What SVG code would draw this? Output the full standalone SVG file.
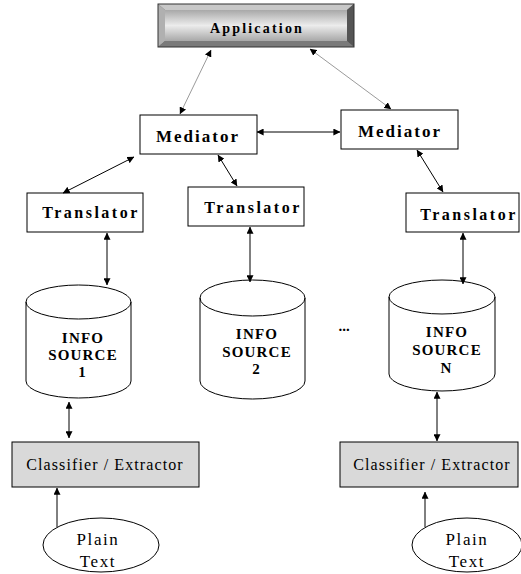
<svg xmlns="http://www.w3.org/2000/svg" width="521" height="574" viewBox="0 0 521 574">
<defs>
  <marker id="ah" viewBox="0 0 10 10" refX="9.5" refY="5" markerWidth="7" markerHeight="7" markerUnits="userSpaceOnUse" orient="auto-start-reverse">
    <path d="M0,0 L10,5 L0,10 z" fill="#000"/>
  </marker>
  <linearGradient id="face" x1="0" y1="0" x2="0" y2="1">
    <stop offset="0" stop-color="#a8a8a8"/>
    <stop offset="0.5" stop-color="#ececec"/>
    <stop offset="1" stop-color="#a8a8a8"/>
  </linearGradient>
</defs>
<style>
  .box{fill:#fff;stroke:#000;stroke-width:1}
  .gray{fill:#d9d9d9;stroke:#000;stroke-width:1}
  .b{font-family:"Liberation Serif","Times New Roman",serif;font-weight:bold;fill:#000;text-anchor:middle}
  .r{font-family:"Liberation Serif","Times New Roman",serif;fill:#000;text-anchor:middle}
  .c{stroke:#000;stroke-width:1;fill:none;marker-start:url(#ah);marker-end:url(#ah)}
  .c1{stroke:#000;stroke-width:1;fill:none;marker-end:url(#ah)}
  .cg{stroke:#808080;stroke-width:0.8;fill:none;marker-start:url(#ah);marker-end:url(#ah)}
</style>
<rect width="521" height="574" fill="#fff"/>

<g id="application">
  <rect x="158" y="4" width="196" height="43" fill="#6a6a6a"/>
  <polygon points="158,4 354,4 347,10 165,10" fill="#c8c8c8"/>
  <polygon points="158,4 165,10 165,41 158,47" fill="#b0b0b0"/>
  <polygon points="354,4 354,47 347,41 347,10" fill="#555"/>
  <polygon points="158,47 354,47 347,41 165,41" fill="#7a7a7a"/>
  <rect x="165" y="10" width="182" height="31" fill="url(#face)"/>
  <rect x="158" y="4" width="196" height="43" fill="none" stroke="#333" stroke-width="1"/>
  <text class="b" x="257" y="33" font-size="14" letter-spacing="2.2">Application</text>
</g>

<g id="mediator1">
  <rect class="box" x="140" y="115" width="117" height="39"/>
  <text class="b" x="198" y="142" font-size="17" letter-spacing="2">Mediator</text>
</g>
<g id="mediator2">
  <rect class="box" x="341" y="110" width="117" height="39"/>
  <text class="b" x="400" y="137" font-size="17" letter-spacing="2">Mediator</text>
</g>

<g id="translator1">
  <rect class="box" x="27" y="193" width="116" height="39"/>
  <text class="b" x="91" y="218" font-size="16" letter-spacing="2.5">Translator</text>
</g>
<g id="translator2">
  <rect class="box" x="188" y="187" width="116" height="39"/>
  <text class="b" x="253" y="213" font-size="16" letter-spacing="2.5">Translator</text>
</g>
<g id="translatorN">
  <rect class="box" x="406" y="193" width="113" height="39"/>
  <text class="b" x="469" y="220" font-size="16" letter-spacing="2.5">Translator</text>
</g>

<g id="source1">
  <path class="box" d="M26,302 L26,381 A52.5,17 0 0 0 131,381 L131,302 A52.5,17 0 0 0 26,302 Z"/>
  <path d="M26,302 A52.5,17 0 0 0 131,302" fill="none" stroke="#000"/>
  <text class="b" x="83" y="343" font-size="15" letter-spacing="1.2">INFO</text>
  <text class="b" x="83" y="360" font-size="15" letter-spacing="1.2">SOURCE</text>
  <text class="b" x="82" y="377" font-size="15">1</text>
</g>
<g id="source2">
  <path class="box" d="M200,298 L200,381 A52.5,18 0 0 0 305,381 L305,298 A52.5,18 0 0 0 200,298 Z"/>
  <path d="M200,298 A52.5,18 0 0 0 305,298" fill="none" stroke="#000"/>
  <text class="b" x="257" y="339" font-size="15" letter-spacing="1.2">INFO</text>
  <text class="b" x="257" y="357" font-size="15" letter-spacing="1.2">SOURCE</text>
  <text class="b" x="256" y="374" font-size="15">2</text>
</g>
<g id="sourceN">
  <path class="box" d="M389,297 L389,374 A53,17 0 0 0 495,374 L495,297 A53,17 0 0 0 389,297 Z"/>
  <path d="M389,297 A53,17 0 0 0 495,297" fill="none" stroke="#000"/>
  <text class="b" x="447" y="337" font-size="15" letter-spacing="1.2">INFO</text>
  <text class="b" x="447" y="355" font-size="15" letter-spacing="1.2">SOURCE</text>
  <text class="b" x="446" y="373" font-size="15">N</text>
</g>

<g id="ellipsis">
  <text class="b" x="344" y="331" font-size="15">...</text>
</g>

<g id="classifier1">
  <rect class="gray" x="12" y="442" width="187" height="45"/>
  <text class="r" x="105" y="470" font-size="16" letter-spacing="1.1">Classifier / Extractor</text>
</g>
<g id="classifierN">
  <rect class="gray" x="340" y="442" width="178" height="45"/>
  <text class="r" x="432" y="470" font-size="16" letter-spacing="1.1">Classifier / Extractor</text>
</g>

<g id="plaintext1">
  <ellipse class="box" cx="101" cy="545" rx="58" ry="27"/>
  <text class="r" x="98" y="545" font-size="17" letter-spacing="1.6">Plain</text>
  <text class="r" x="98" y="567" font-size="17" letter-spacing="1.6">Text</text>
</g>
<g id="plaintextN">
  <ellipse class="box" cx="467" cy="545" rx="55" ry="27"/>
  <text class="r" x="467" y="545" font-size="17" letter-spacing="1.6">Plain</text>
  <text class="r" x="467" y="567" font-size="17" letter-spacing="1.6">Text</text>
</g>

<g id="connectors">
  <line class="cg" x1="211" y1="50" x2="180" y2="114"/>
  <line class="cg" x1="310" y1="49" x2="391" y2="109"/>
  <line class="c" x1="257" y1="132" x2="340" y2="132"/>
  <line class="c" x1="134" y1="157" x2="63" y2="193"/>
  <line class="c" x1="218" y1="155" x2="237" y2="186"/>
  <line class="c" x1="417" y1="150" x2="443" y2="192"/>
  <line class="c" x1="107" y1="233" x2="107" y2="285"/>
  <line class="c" x1="250" y1="227" x2="250" y2="282"/>
  <line class="c" x1="463" y1="233" x2="463" y2="284"/>
  <line class="c" x1="69" y1="402" x2="69" y2="438"/>
  <line class="c" x1="437" y1="392" x2="437" y2="441"/>
  <line class="c1" x1="57" y1="527" x2="57" y2="488"/>
  <line class="c1" x1="425" y1="527" x2="425" y2="492"/>
</g>
</svg>
